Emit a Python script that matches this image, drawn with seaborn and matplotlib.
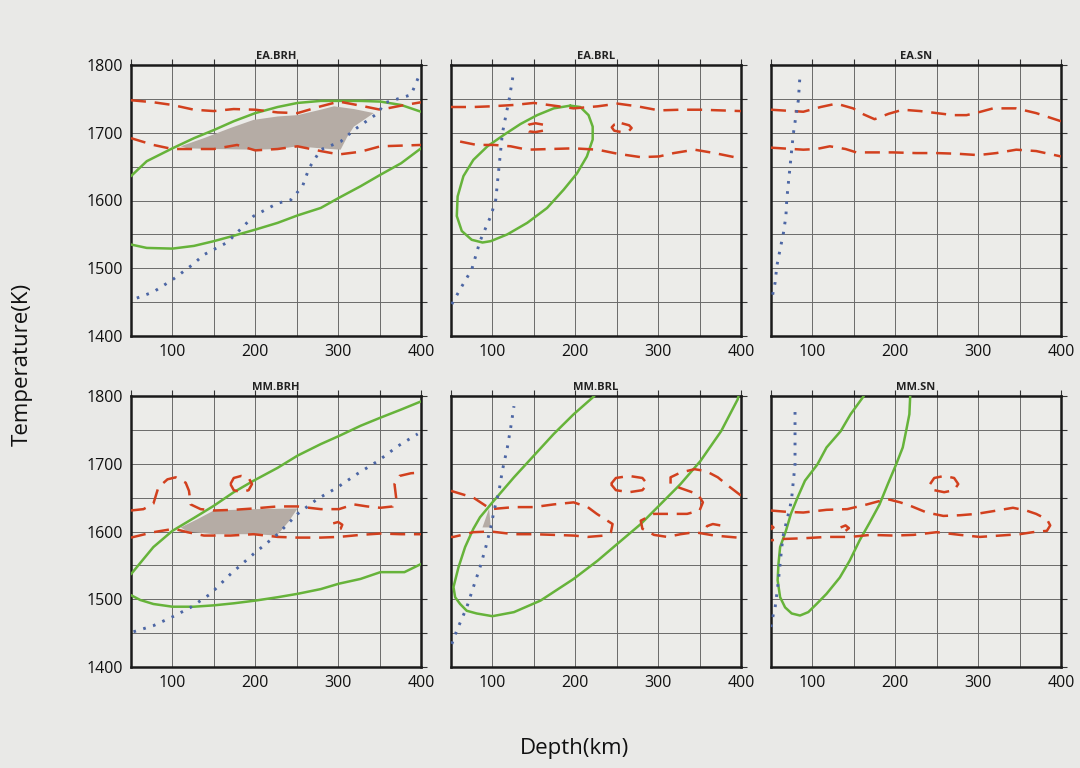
import numpy as np
import pandas as pd
import matplotlib
matplotlib.use("Agg")
import matplotlib.pyplot as plt
import seaborn as sns

# ---------------- data (depth km, temperature K) ----------------
titles = ["EA.BRH", "EA.BRL", "EA.SN", "MM.BRH", "MM.BRL", "MM.SN"]
x_major = [100, 200, 300, 400]
y_major = [1400, 1500, 1600, 1700, 1800]

# EA.BRH
ea_brh_geo_x = [57, 77, 100, 124, 138, 166, 176, 198, 227, 243, 257, 265, 279, 303, 319, 348, 356, 388, 398]
ea_brh_geo_t = [1456, 1465, 1483, 1505, 1520, 1538, 1550, 1577, 1596, 1601, 1621, 1648, 1675, 1687, 1704, 1729, 1744, 1756, 1785]
ea_brh_g1_x = [50, 69, 100, 126, 150, 174, 200, 227, 251, 279, 301, 327, 351, 376, 400]
ea_brh_g1_t = [1636, 1658, 1677, 1692, 1704, 1717, 1729, 1738, 1744, 1747, 1747, 1747, 1746, 1741, 1731]
ea_brh_g2_x = [50, 69, 100, 126, 150, 174, 200, 227, 251, 279, 301, 327, 351, 376, 400]
ea_brh_g2_t = [1535, 1530, 1529, 1533, 1540, 1548, 1557, 1567, 1578, 1589, 1604, 1621, 1638, 1655, 1677]
ea_brh_r1_x = [50, 77, 100, 126, 150, 174, 200, 227, 251, 279, 301, 327, 351, 376, 400]
ea_brh_r1_t = [1748, 1745, 1741, 1734, 1732, 1735, 1734, 1730, 1729, 1739, 1746, 1740, 1734, 1740, 1745]
ea_brh_r2_x = [50, 77, 100, 126, 150, 178, 200, 227, 251, 279, 301, 327, 351, 376, 400]
ea_brh_r2_t = [1692, 1682, 1676, 1676, 1676, 1682, 1674, 1676, 1680, 1673, 1668, 1672, 1680, 1681, 1682]
ea_brh_fill_x = [110, 138, 170, 198, 227, 251, 279, 295, 319, 343, 319, 311, 303, 279, 251, 227, 200, 150, 118]
ea_brh_fill_t = [1680, 1692, 1707, 1719, 1724, 1726, 1734, 1739, 1735, 1729, 1709, 1694, 1675, 1677, 1680, 1676, 1675, 1676, 1677]

# EA.BRL
ea_brl_geo_x = [51, 61, 75, 85, 98, 104, 106, 108, 112, 116, 120, 125]
ea_brl_geo_t = [1447, 1469, 1498, 1540, 1577, 1601, 1626, 1650, 1699, 1724, 1748, 1785]
ea_brl_g1_x = [194, 206, 216, 221, 221, 214, 202, 186, 166, 142, 118, 98, 88, 75, 63, 57, 58, 65, 77, 94, 114, 134, 154, 174, 194]
ea_brl_g1_t = [1740, 1738, 1726, 1709, 1690, 1665, 1640, 1616, 1589, 1567, 1550, 1540, 1538, 1542, 1555, 1577, 1606, 1636, 1660, 1680, 1697, 1713, 1726, 1736, 1740]
ea_brl_r1_x = [50, 77, 98, 126, 150, 174, 198, 227, 251, 275, 301, 327, 351, 376, 400]
ea_brl_r1_t = [1738, 1738, 1739, 1741, 1744, 1740, 1736, 1739, 1743, 1739, 1733, 1734, 1734, 1733, 1732]
ea_brl_r2_x = [61, 81, 102, 122, 142, 170, 198, 227, 251, 279, 301, 319, 344, 368, 400]
ea_brl_r2_t = [1687, 1682, 1682, 1680, 1675, 1676, 1677, 1675, 1669, 1664, 1665, 1670, 1675, 1670, 1662]
ea_brl_r3_x = [161, 152, 144, 140, 144, 152, 161]
ea_brl_r3_t = [1712, 1714, 1712, 1707, 1702, 1701, 1703]
ea_brl_r4_x = [256, 265, 268, 265, 256, 247, 244, 247, 256]
ea_brl_r4_t = [1714, 1711, 1707, 1703, 1701, 1703, 1708, 1712, 1714]

# EA.SN
ea_sn_geo_x = [52, 55, 57, 61, 65, 68, 69, 71, 73, 75, 77, 80, 83, 85]
ea_sn_geo_t = [1461, 1479, 1503, 1528, 1552, 1577, 1601, 1626, 1650, 1675, 1699, 1724, 1748, 1785]
ea_sn_r1_x = [50, 89, 110, 129, 149, 162, 175, 192, 209, 230, 250, 270, 286, 303, 318, 346, 370, 400]
ea_sn_r1_t = [1734, 1731, 1738, 1743, 1736, 1727, 1720, 1728, 1734, 1732, 1729, 1726, 1726, 1731, 1736, 1736, 1729, 1717]
ea_sn_r2_x = [50, 89, 105, 121, 140, 153, 175, 197, 225, 250, 275, 300, 322, 346, 370, 400]
ea_sn_r2_t = [1678, 1675, 1676, 1680, 1676, 1671, 1671, 1671, 1670, 1670, 1669, 1667, 1670, 1675, 1673, 1665]

# MM.BRH
mm_brh_geo_x = [53, 77, 100, 122, 146, 170, 198, 227, 251, 275, 299, 323, 348, 372, 396]
mm_brh_geo_t = [1452, 1461, 1474, 1488, 1508, 1537, 1567, 1596, 1626, 1648, 1665, 1685, 1704, 1726, 1744]
mm_brh_g1_x = [50, 77, 100, 126, 150, 174, 198, 227, 251, 279, 301, 327, 351, 376, 400]
mm_brh_g1_t = [1537, 1577, 1601, 1620, 1638, 1658, 1675, 1694, 1712, 1729, 1741, 1756, 1768, 1780, 1792]
mm_brh_g2_x = [50, 61, 77, 100, 126, 150, 174, 200, 227, 251, 279, 301, 327, 351, 368, 380, 400]
mm_brh_g2_t = [1506, 1499, 1493, 1489, 1489, 1491, 1494, 1498, 1503, 1508, 1515, 1523, 1530, 1540, 1540, 1540, 1552]
mm_brh_r1_x = [50, 65, 77, 83, 94, 104, 116, 120, 122, 134, 150, 174, 198, 227, 251, 279, 301, 319, 335, 351, 366, 370, 368, 374, 388, 400]
mm_brh_r1_t = [1631, 1633, 1641, 1665, 1677, 1680, 1672, 1660, 1640, 1633, 1631, 1632, 1634, 1637, 1637, 1633, 1633, 1640, 1637, 1635, 1637, 1650, 1670, 1682, 1686, 1687]
mm_brh_r2_x = [50, 77, 102, 118, 138, 170, 198, 227, 251, 279, 301, 327, 351, 376, 400]
mm_brh_r2_t = [1591, 1599, 1604, 1599, 1594, 1594, 1596, 1592, 1591, 1591, 1592, 1595, 1597, 1596, 1596]
mm_brh_r3_x = [170, 174, 183, 192, 196, 192, 183, 174, 170]
mm_brh_r3_t = [1670, 1679, 1682, 1679, 1670, 1661, 1658, 1661, 1670]
mm_brh_r4_x = [294, 300, 305, 303, 297]
mm_brh_r4_t = [1612, 1614, 1610, 1604, 1602]
mm_brh_fill_x = [110, 130, 150, 200, 251, 240, 226, 200, 150, 118]
mm_brh_fill_t = [1606, 1618, 1631, 1633, 1634, 1614, 1594, 1596, 1596, 1600]

# MM.BRL
mm_brl_geo_x = [51, 57, 69, 77, 85, 92, 98, 102, 108, 112, 118, 122, 126]
mm_brl_geo_t = [1434, 1454, 1488, 1518, 1547, 1577, 1606, 1631, 1660, 1690, 1724, 1753, 1785]
mm_brl_g1_x = [223, 198, 174, 150, 126, 100, 85, 77, 67, 59, 53, 55, 61, 69, 81, 100, 126, 158, 198, 227, 251, 279, 301, 327, 351, 376, 396, 397]
mm_brl_g1_t = [1800, 1773, 1744, 1712, 1680, 1643, 1621, 1604, 1577, 1547, 1518, 1503, 1493, 1483, 1479, 1475, 1481, 1498, 1530, 1557, 1582, 1611, 1638, 1670, 1704, 1748, 1795, 1800]
mm_brl_r1_x = [50, 77, 98, 126, 150, 174, 198, 215, 226, 245, 243, 235, 215, 198, 174, 150, 126, 98, 77, 53, 50]
mm_brl_r1_t = [1660, 1650, 1633, 1636, 1636, 1640, 1643, 1636, 1626, 1611, 1599, 1594, 1592, 1594, 1595, 1596, 1596, 1600, 1599, 1592, 1592]
mm_brl_r2_x = [400, 384, 372, 358, 344, 327, 315, 315, 327, 348, 354, 350, 335, 315, 295, 279, 281, 295, 311, 327, 344, 368, 396, 400]
mm_brl_r2_t = [1653, 1668, 1680, 1689, 1692, 1687, 1680, 1670, 1664, 1655, 1643, 1631, 1626, 1626, 1626, 1616, 1604, 1595, 1592, 1596, 1599, 1594, 1591, 1591]
mm_brl_r3_x = [243, 249, 265, 281, 287, 281, 265, 249, 243]
mm_brl_r3_t = [1670, 1679, 1682, 1679, 1670, 1661, 1658, 1661, 1670]
mm_brl_r4_x = [375, 366, 359, 358]
mm_brl_r4_t = [1609, 1611, 1608, 1603]
mm_brl_fill_x = [96, 98, 88]
mm_brl_fill_t = [1634, 1606, 1606]

# MM.SN
mm_sn_geo_x = [50, 53, 55, 59, 63, 65, 69, 73, 75, 77, 79, 79, 79]
mm_sn_geo_t = [1459, 1479, 1488, 1528, 1577, 1596, 1616, 1636, 1650, 1675, 1699, 1748, 1785]
mm_sn_g1_x = [162, 146, 134, 117, 106, 91, 82, 74, 68, 61, 59, 58, 61, 67, 75, 85, 95, 105, 117, 133, 145, 157, 169, 181, 191, 201, 209, 213, 217, 218]
mm_sn_g1_t = [1800, 1773, 1748, 1724, 1699, 1675, 1650, 1626, 1601, 1577, 1552, 1528, 1503, 1488, 1479, 1476, 1481, 1493, 1508, 1532, 1557, 1587, 1613, 1640, 1670, 1699, 1724, 1748, 1773, 1800]
mm_sn_r1_x = [50, 69, 89, 117, 142, 166, 190, 206, 218, 238, 258, 278, 298, 318, 342, 358, 370, 383, 387, 383, 366, 350, 326, 302, 278, 250, 222, 198, 170, 146, 117, 89, 65, 50]
mm_sn_r1_t = [1631, 1629, 1628, 1632, 1633, 1640, 1648, 1643, 1638, 1628, 1623, 1624, 1626, 1630, 1635, 1631, 1626, 1618, 1609, 1601, 1599, 1596, 1594, 1592, 1595, 1599, 1595, 1594, 1595, 1592, 1592, 1590, 1589, 1587]
mm_sn_r2_x = [242, 247, 259, 271, 276, 271, 259, 247, 242]
mm_sn_r2_t = [1670, 1679, 1682, 1679, 1670, 1661, 1658, 1661, 1670]
mm_sn_r3_x = [134, 140, 144, 140]
mm_sn_r3_t = [1606, 1609, 1605, 1601]
mm_sn_r4_x = [50, 53, 50]
mm_sn_r4_t = [1609, 1606, 1603]

panels = [
    dict(geo=(ea_brh_geo_x, ea_brh_geo_t),
         green=[(ea_brh_g1_x, ea_brh_g1_t), (ea_brh_g2_x, ea_brh_g2_t)],
         red=[(ea_brh_r1_x, ea_brh_r1_t), (ea_brh_r2_x, ea_brh_r2_t)],
         fill=[(ea_brh_fill_x, ea_brh_fill_t)]),
    dict(geo=(ea_brl_geo_x, ea_brl_geo_t),
         green=[(ea_brl_g1_x, ea_brl_g1_t)],
         red=[(ea_brl_r1_x, ea_brl_r1_t), (ea_brl_r2_x, ea_brl_r2_t),
              (ea_brl_r3_x, ea_brl_r3_t), (ea_brl_r4_x, ea_brl_r4_t)],
         fill=[]),
    dict(geo=(ea_sn_geo_x, ea_sn_geo_t),
         green=[],
         red=[(ea_sn_r1_x, ea_sn_r1_t), (ea_sn_r2_x, ea_sn_r2_t)],
         fill=[]),
    dict(geo=(mm_brh_geo_x, mm_brh_geo_t),
         green=[(mm_brh_g1_x, mm_brh_g1_t), (mm_brh_g2_x, mm_brh_g2_t)],
         red=[(mm_brh_r1_x, mm_brh_r1_t), (mm_brh_r2_x, mm_brh_r2_t),
              (mm_brh_r3_x, mm_brh_r3_t), (mm_brh_r4_x, mm_brh_r4_t)],
         fill=[(mm_brh_fill_x, mm_brh_fill_t)]),
    dict(geo=(mm_brl_geo_x, mm_brl_geo_t),
         green=[(mm_brl_g1_x, mm_brl_g1_t)],
         red=[(mm_brl_r1_x, mm_brl_r1_t), (mm_brl_r2_x, mm_brl_r2_t),
              (mm_brl_r3_x, mm_brl_r3_t), (mm_brl_r4_x, mm_brl_r4_t)],
         fill=[(mm_brl_fill_x, mm_brl_fill_t)]),
    dict(geo=(mm_sn_geo_x, mm_sn_geo_t),
         green=[(mm_sn_g1_x, mm_sn_g1_t)],
         red=[(mm_sn_r1_x, mm_sn_r1_t), (mm_sn_r2_x, mm_sn_r2_t),
              (mm_sn_r3_x, mm_sn_r3_t), (mm_sn_r4_x, mm_sn_r4_t)],
         fill=[]),
]

# ---------------- style ----------------
sns.set_theme(style="white")
plt.rcParams["font.family"] = ["Open Sans", "DejaVu Sans"]
BG = "#e9e9e7"
GREEN = "#66b33a"
RED = "#d2401e"
BLUE = "#4c66a4"
GREY = "#b5aca5"

fig = plt.figure(figsize=(10.8, 7.68), dpi=100, facecolor=BG)

lefts = [131 / 1080, 451 / 1080, 771 / 1080]
width = 290 / 1080
bottoms = [1 - 336 / 768, 1 - 667 / 768]
height = 271 / 768

for i, (title, p) in enumerate(zip(titles, panels)):
    row, col = divmod(i, 3)
    ax = fig.add_axes([lefts[col], bottoms[row], width, height])
    ax.set_facecolor("#ecece9")
    for fx, ft in p["fill"]:
        ax.fill(fx, ft, color=GREY, lw=0, zorder=2)
    for gx, gt in p["green"]:
        sns.lineplot(x=gx, y=gt, sort=False, estimator=None, color=GREEN,
                     lw=1.8, ax=ax, zorder=3)
    for rx, rt in p["red"]:
        sns.lineplot(x=rx, y=rt, sort=False, estimator=None, color=RED,
                     lw=1.8, ax=ax, zorder=4, linestyle=(0, (6, 3.5)))
    gx, gt = p["geo"]
    sns.lineplot(x=gx, y=gt, sort=False, estimator=None, color=BLUE,
                 lw=2.1, ax=ax, zorder=5, linestyle=(0, (0.9, 2.6)))

    ax.set_xlim(50, 400)
    ax.set_ylim(1400, 1800)
    ax.set_xticks(x_major)
    ax.set_xticks(list(range(50, 401, 50)), minor=True)
    ax.set_yticks(y_major)
    ax.set_yticks(list(range(1400, 1801, 50)), minor=True)
    ax.grid(True, which="both", color="#6a6a6a", lw=0.7)
    ax.set_axisbelow(True)
    ax.tick_params(which="both", direction="out", length=4, width=0.8,
                   color="#333333", top=True, right=True,
                   labelsize=11.5, pad=2, labelcolor="#111111")
    if col != 0:
        ax.set_yticklabels([])
    ax.set_xlabel("")
    ax.set_ylabel("")
    for s in ax.spines.values():
        s.set_visible(True)
        s.set_color("#1a1a1a")
        s.set_linewidth(1.8)
    ax.set_title(title, fontsize=8, pad=4, color="#222222", fontweight="bold")

fig.text(0.021, 0.525, "Temperature(K)", rotation=90, ha="center", va="center",
         fontsize=16, color="#111111")
fig.text(0.532, 0.026, "Depth(km)", ha="center", va="center",
         fontsize=16, color="#111111")

fig.savefig("out.png", dpi=100, facecolor=BG)
